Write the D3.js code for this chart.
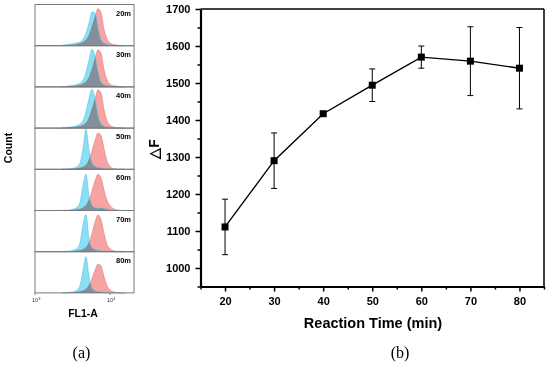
<!DOCTYPE html>
<html>
<head>
<meta charset="utf-8">
<script src="https://cdn.jsdelivr.net/npm/d3@7"></script>
<style>
  body { margin: 0; background: #fff; }
  svg { display: block; }
  .hist { mix-blend-mode: multiply; }
</style>
</head>
<body>
<script>
// ---------------- data ----------------
// (b) reaction time curve
var times = [20, 30, 40, 50, 60, 70, 80];
var deltaF = [1111, 1290, 1417, 1494, 1570, 1559, 1540];
var deltaErr = [75, 75, 4, 44, 30, 93, 110];
var xTicks = [20, 30, 40, 50, 60, 70, 80];
var xMinor = [15, 25, 35, 45, 55, 65, 75, 85];
var yTicks = [1000, 1100, 1200, 1300, 1400, 1500, 1600, 1700];
var yMinor = [950, 1050, 1150, 1250, 1350, 1450, 1550, 1650];

// (a) flow histograms, heights in % of panel, on log10(FL1-A) bins
var panelLabels = ["20m", "30m", "40m", "50m", "60m", "70m", "80m"];
var binLog = [3.36, 3.40, 3.44, 3.48, 3.52, 3.56, 3.60, 3.64, 3.68, 3.72, 3.76,
              3.80, 3.84, 3.88, 3.92, 3.96, 4.00, 4.04, 4.08, 4.12, 4.16, 4.20];
var cyanCounts = [
  [1, 2, 3, 4, 5, 7, 9, 15, 30, 55, 82, 80, 42, 14, 6, 3, 2, 1, 0, 0, 0, 0],
  [1, 1, 2, 3, 4, 6, 9, 16, 35, 65, 91, 75, 35, 12, 5, 3, 2, 1, 0, 0, 0, 0],
  [1, 1, 2, 3, 4, 6, 10, 18, 40, 72, 94, 70, 30, 10, 4, 2, 1, 1, 0, 0, 0, 0],
  [0, 1, 1, 2, 3, 6, 15, 50, 98, 45, 15, 7, 4, 3, 2, 1, 0, 0, 0, 0, 0, 0],
  [0, 1, 1, 2, 4, 8, 20, 60, 88, 35, 12, 6, 5, 6, 5, 3, 1, 0, 0, 0, 0, 0],
  [0, 1, 1, 2, 4, 8, 22, 65, 90, 30, 10, 5, 3, 2, 1, 1, 0, 0, 0, 0, 0, 0],
  [0, 1, 1, 2, 3, 7, 18, 55, 88, 40, 12, 5, 3, 2, 1, 0, 0, 0, 0, 0, 0, 0]
];
var redCounts = [
  [0, 1, 1, 2, 2, 3, 5, 8, 13, 25, 45, 68, 90, 80, 40, 17, 7, 3, 2, 1, 0, 0],
  [0, 1, 1, 2, 2, 3, 4, 7, 12, 22, 42, 68, 90, 82, 42, 17, 7, 3, 2, 1, 0, 0],
  [0, 0, 1, 1, 2, 3, 4, 7, 12, 24, 45, 70, 93, 85, 45, 18, 7, 3, 1, 1, 0, 0],
  [0, 0, 0, 1, 1, 2, 3, 5, 10, 22, 45, 70, 88, 82, 50, 20, 7, 2, 1, 0, 0, 0],
  [0, 0, 0, 1, 1, 2, 3, 6, 12, 25, 48, 72, 88, 80, 50, 25, 12, 5, 2, 1, 0, 0],
  [0, 0, 0, 1, 1, 2, 3, 5, 10, 22, 45, 72, 89, 78, 45, 18, 7, 3, 1, 0, 0, 0],
  [0, 0, 0, 1, 1, 2, 3, 5, 9, 18, 35, 55, 70, 65, 40, 18, 7, 3, 1, 0, 0, 0]
];

var W = 550, H = 365;
var sans = "Arial, 'Liberation Sans', sans-serif";
var serif = "'Liberation Serif', 'DejaVu Serif', serif";

var svg = d3.select('body').append('svg').attr('width', W).attr('height', H);

/***********************************************************************************/
// (a) histogram stack

var hx = d3.scaleLog().domain([1000, Math.pow(10, 4.32)]).range([35, 134]);
var pTop = 4.5, pH = 41.2;
var left = svg.append('g');

panelLabels.forEach(function(lbl, i){
  var y0 = pTop + i * pH;
  var hy = d3.scaleLinear().domain([0, 100]).range([y0 + pH, y0]);
  var area = d3.area()
    .x(function(d){ return hx(Math.pow(10, d[0])); })
    .y0(y0 + pH).y1(function(d){ return hy(d[1]); })
    .curve(d3.curveMonotoneX);
  var line = area.lineY1();

  var g = left.append('g');
  [[redCounts[i], '#f5a3a3', '#e47676'], [cyanCounts[i], '#8adff2', '#45c4e4']].forEach(function(s){
    var pts = binLog.map(function(b, j){ return [b, s[0][j]]; });
    g.append('path').attr('class', 'hist').attr('d', area(pts)).attr('fill', s[1]);
    g.append('path').attr('d', line(pts)).attr('fill', 'none')
      .attr('stroke', s[2]).attr('stroke-width', 0.7).attr('stroke-opacity', 0.8);
  });

  left.append('rect').attr('x', 35).attr('y', y0).attr('width', 99).attr('height', pH)
    .attr('fill', 'none').attr('stroke', '#7a7a7a').attr('stroke-width', 1);
  left.append('text').attr('x', 131).attr('y', y0 + 11).attr('text-anchor', 'end')
    .style('font', 'bold 7.5px ' + sans).text(lbl);
});

// log axis labels
[[1000, '3'], [10000, '4']].forEach(function(t){
  var tx = left.append('text').attr('x', hx(t[0]) - 3).attr('y', 302)
    .style('font', '5.5px ' + sans).attr('fill', '#333');
  tx.append('tspan').text('10');
  tx.append('tspan').attr('dy', -2).style('font-size', '4px').text(t[1]);
  left.append('line').attr('x1', hx(t[0])).attr('x2', hx(t[0]))
    .attr('y1', pTop + 7 * pH).attr('y2', pTop + 7 * pH + 2).attr('stroke', '#7a7a7a');
});

left.append('text').attr('x', 83).attr('y', 317).attr('text-anchor', 'middle')
  .style('font', 'bold 10.5px ' + sans).text('FL1-A');
left.append('text').attr('transform', 'translate(11.5,148) rotate(-90)').attr('text-anchor', 'middle')
  .style('font', 'bold 10.5px ' + sans).text('Count');
left.append('text').attr('x', 81.5).attr('y', 358).attr('text-anchor', 'middle')
  .style('font', '16px ' + serif).text('(a)');

/***********************************************************************************/
// (b) ΔF vs reaction time

var x = d3.scaleLinear().domain([15, 85]).range([200.5, 544]);
var y = d3.scaleLinear().domain([950, 1700]).range([286.5, 9]);
var right = svg.append('g');

function styleAxis(g){
  g.selectAll('text').style('font', 'bold 11px ' + sans).attr('fill', '#000');
  g.selectAll('line').attr('stroke', '#000').attr('stroke-width', 1.5);
}

// frame top/right
right.append('line').attr('x1', x(15)).attr('x2', x(85)).attr('y1', y(1700)).attr('y2', y(1700))
  .attr('stroke', '#000').attr('stroke-width', 1.5);
right.append('line').attr('x1', x(85)).attr('x2', x(85)).attr('y1', y(1700)).attr('y2', y(950))
  .attr('stroke', '#000').attr('stroke-width', 1.5);

right.append('g').attr('transform', 'translate(0,' + y(950) + ')')
  .call(d3.axisBottom(x).tickValues(xMinor).tickSize(3).tickFormat(''))
  .call(styleAxis).select('.domain').remove();
right.append('g').attr('transform', 'translate(' + x(15) + ',0)')
  .call(d3.axisLeft(y).tickValues(yMinor).tickSize(3).tickFormat(''))
  .call(styleAxis).select('.domain').remove();

var gx = right.append('g').attr('transform', 'translate(0,' + y(950) + ')')
  .call(d3.axisBottom(x).tickValues(xTicks).tickSize(5).tickSizeOuter(0).tickPadding(5.5)
    .tickFormat(d3.format('d')))
  .call(styleAxis);
gx.select('.domain').attr('stroke', '#000').attr('stroke-width', 2.2);
var gy = right.append('g').attr('transform', 'translate(' + x(15) + ',0)')
  .call(d3.axisLeft(y).tickValues(yTicks).tickSize(5).tickSizeOuter(0).tickPadding(5)
    .tickFormat(d3.format('d')))
  .call(styleAxis);
gy.select('.domain').attr('stroke', '#000').attr('stroke-width', 2.2);

// error bars
var eb = right.append('g').attr('stroke', '#000').attr('stroke-width', 1);
times.forEach(function(t, i){
  var cx = x(t), hi = y(deltaF[i] + deltaErr[i]), lo = y(deltaF[i] - deltaErr[i]);
  eb.append('line').attr('x1', cx).attr('x2', cx).attr('y1', hi).attr('y2', lo);
  eb.append('line').attr('x1', cx - 3).attr('x2', cx + 3).attr('y1', hi).attr('y2', hi);
  eb.append('line').attr('x1', cx - 3).attr('x2', cx + 3).attr('y1', lo).attr('y2', lo);
});

var pts = times.map(function(t, i){ return [t, deltaF[i]]; });
right.append('path')
  .attr('d', d3.line().x(function(d){ return x(d[0]); }).y(function(d){ return y(d[1]); })(pts))
  .attr('fill', 'none').attr('stroke', '#000').attr('stroke-width', 1.4);
right.selectAll('rect.pt').data(pts).enter().append('rect').attr('class', 'pt')
  .attr('x', function(d){ return x(d[0]) - 3.5; }).attr('y', function(d){ return y(d[1]) - 3.5; })
  .attr('width', 7).attr('height', 7).attr('fill', '#000');

right.append('text').attr('x', 373).attr('y', 328).attr('text-anchor', 'middle')
  .style('font', 'bold 14.5px ' + sans).text('Reaction Time (min)');
right.append('text').attr('transform', 'translate(159,149) rotate(-90)').attr('text-anchor', 'middle')
  .style('font', 'bold 14px ' + sans).text('\u25B3F');
right.append('text').attr('x', 400).attr('y', 358).attr('text-anchor', 'middle')
  .style('font', '16px ' + serif).text('(b)');
</script>
</body>
</html>
